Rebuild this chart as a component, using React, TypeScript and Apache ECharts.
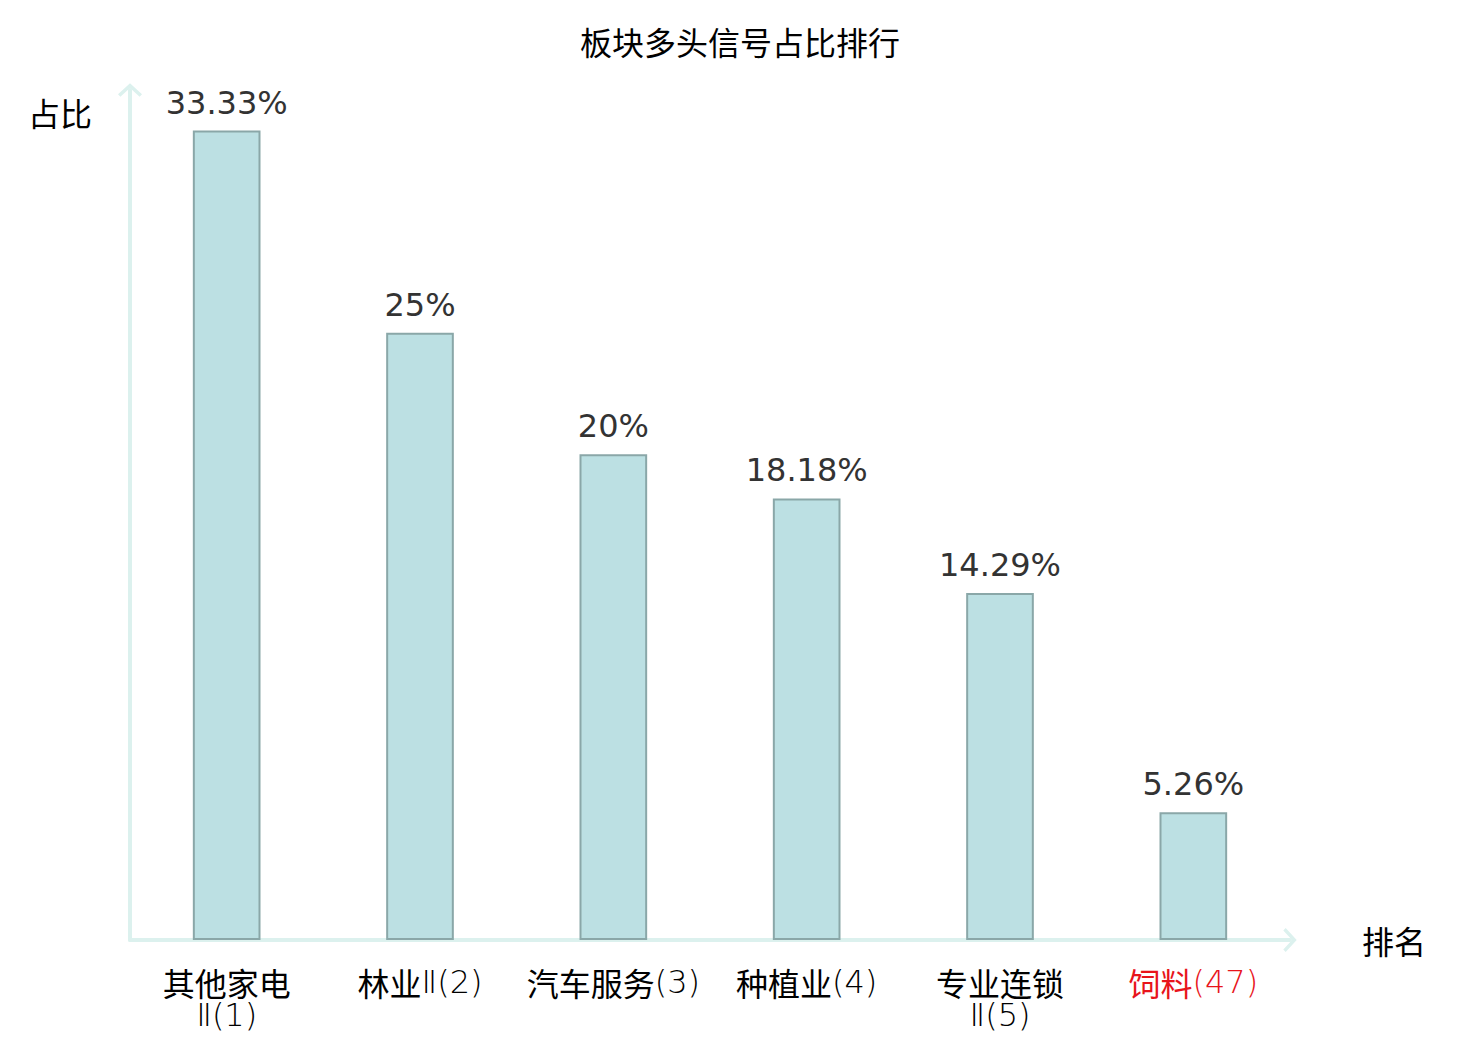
import React, { useEffect, useRef } from "react";
import * as echarts from "echarts";

const titleText = "板块多头信号占比排行";
const categories = ["其他家电Ⅱ(1)", "林业Ⅱ(2)", "汽车服务(3)", "种植业(4)", "专业连锁Ⅱ(5)", "饲料(47)"];
const values = [33.33, 25, 20, 18.18, 14.29, 5.26];
const highlightIndex = 5;
const yAxisName = "占比";
const xAxisName = "排名";

const arrowPath = "path://M0,11 L12,0 L24,11 L21.6,13.4 L12,4.6 L2.4,13.4 Z";

export default function App() {
  const ref = useRef<HTMLDivElement>(null);
  useEffect(() => {
    if (!ref.current) return;
    const chart = echarts.init(ref.current, null, { renderer: "svg" });
    const axisColor = "#dcf1ee";
    const cjk = "Noto Sans CJK SC";
    const latin = "DejaVu Sans";
    const lh = 33;
    chart.setOption({
      animation: false,
      title: {
        text: titleText,
        left: "center",
        top: 12,
        textStyle: { fontSize: 32, fontWeight: "normal", color: "#000", fontFamily: cjk },
      },
      grid: { left: 122, right: 182, top: 82, bottom: 92, containLabel: false, outerBoundsMode: "none" },
      xAxis: {
        type: "category",
        data: categories,
        name: xAxisName,
        nameLocation: "end",
        nameGap: 72,
        nameTextStyle: { fontSize: 32, color: "#000", fontFamily: cjk },
        axisLine: {
          show: true,
          symbol: ["none", arrowPath],
          symbolSize: [24, 14],
          lineStyle: { color: axisColor, width: 4 },
        },
        axisTick: { show: false },
        axisLabel: {
          interval: 0,
          margin: 25,
          fontSize: 32,
          lineHeight: lh,
          formatter: (name: string) => {
            const m = name.match(/^([\u4e00-\u9fff]+)(.*)$/);
            const head = m ? m[1] : name;
            const tail = m ? m[2] : "";
            const idx = categories.indexOf(name);
            const hl = idx === highlightIndex;
            const c = hl ? "hc" : "c";
            const l = hl ? "hl" : "l";
            const sep = name.length > 7 ? "\n" : "";
            return `{${c}|${head}}${sep}{${l}|${tail}}`;
          },
          rich: {
            c: { color: "#000", fontSize: 32, lineHeight: lh, fontFamily: cjk },
            l: { color: "#000", fontSize: 32, lineHeight: lh, fontFamily: latin, fontWeight: 200 },
            hc: { color: "#e8141b", fontSize: 32, lineHeight: lh, fontFamily: cjk },
            hl: { color: "#e8141b", fontSize: 32, lineHeight: lh, fontFamily: latin, fontWeight: 200 },
          },
        },
        splitLine: { show: false },
      },
      yAxis: {
        type: "value",
        min: 0,
        max: 35,
        name: yAxisName,
        nameLocation: "end",
        nameGap: -22,
        nameTextStyle: {
          fontSize: 32,
          color: "#000",
          align: "right",
          verticalAlign: "middle",
          padding: [0, 38, 0, 0],
          fontFamily: cjk,
        },
        axisLine: {
          show: true,
          symbol: ["none", arrowPath],
          symbolSize: [24, 14],
          lineStyle: { color: axisColor, width: 4 },
        },
        axisTick: { show: false },
        axisLabel: { show: false },
        splitLine: { show: false },
      },
      series: [
        {
          type: "bar",
          data: values,
          barWidth: "35%",
          itemStyle: { color: "#bce0e3", borderColor: "#8aa7a8", borderWidth: 2 },
          label: {
            show: true,
            position: "top",
            distance: 12,
            fontSize: 32,
            color: "#333",
            fontFamily: latin,
            formatter: (p: any) => `${p.value}%`,
          },
        },
      ],
    });
    return () => chart.dispose();
  }, []);
  return <div ref={ref} style={{ width: 1464, height: 1024 }} />;
}
